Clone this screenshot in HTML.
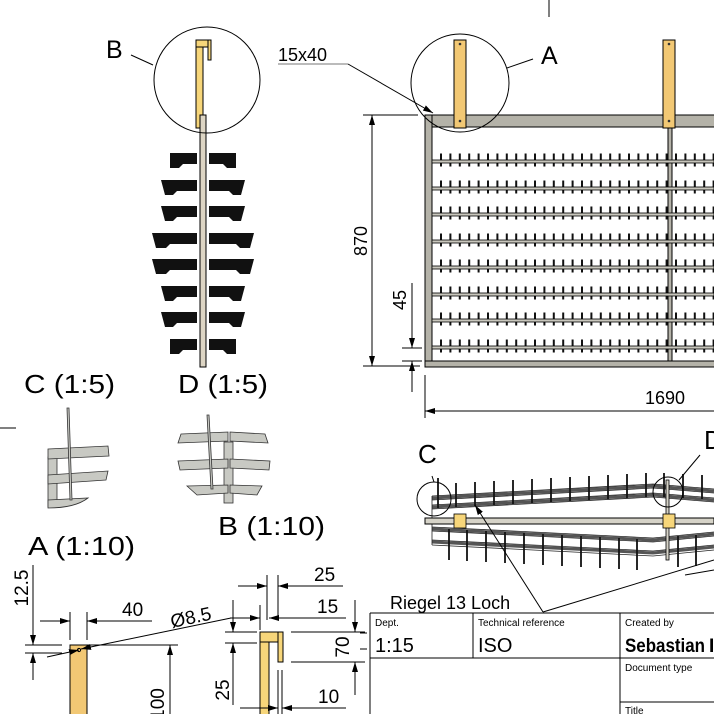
<!DOCTYPE html>
<html><head><meta charset="utf-8"><style>
html,body{margin:0;padding:0;background:#fff;}
svg{display:block;font-family:"Liberation Sans",sans-serif;}
</style></head><body>
<svg width="714" height="714" viewBox="0 0 714 714" xmlns="http://www.w3.org/2000/svg">
<defs>
<marker id="ar" viewBox="0 0 10 6" refX="10" refY="3" markerWidth="10" markerHeight="6" orient="auto-start-reverse" markerUnits="userSpaceOnUse"><path d="M0,0 L10,3 L0,6z" fill="#000"/></marker>
</defs>
<g stroke="#000" stroke-width="1" fill="none">
<line x1="549" y1="0" x2="549" y2="17"/>
<line x1="0" y1="428" x2="16" y2="428"/>
</g>

<!-- MAIN FRONT VIEW -->
<g stroke="#000" stroke-width="1">
<rect x="425" y="115" width="300" height="12" fill="#b4b2a8"/>
<rect x="425" y="115" width="7" height="252" fill="#b4b2a8"/>
<rect x="425" y="361" width="300" height="6" fill="#b4b2a8"/>
<rect x="668" y="127" width="4" height="234" fill="#b4b2a8"/>
</g>
<g stroke="#111" stroke-width="13" stroke-dasharray="2 7.4" fill="none">
<line x1="440" y1="160" x2="714" y2="160"/>
<line x1="440" y1="187" x2="714" y2="187"/>
<line x1="440" y1="213" x2="714" y2="213"/>
<line x1="440" y1="240" x2="714" y2="240"/>
<line x1="440" y1="266" x2="714" y2="266"/>
<line x1="440" y1="293" x2="714" y2="293"/>
<line x1="440" y1="319" x2="714" y2="319"/>
<line x1="440" y1="346" x2="714" y2="346"/>
</g>
<g stroke="#000" stroke-width="0.8" fill="#c8c6bc">
<rect x="432" y="160" width="282" height="3"/>
<rect x="432" y="187" width="282" height="3"/>
<rect x="432" y="213" width="282" height="3"/>
<rect x="432" y="240" width="282" height="3"/>
<rect x="432" y="266" width="282" height="3"/>
<rect x="432" y="293" width="282" height="3"/>
<rect x="432" y="319" width="282" height="3"/>
<rect x="432" y="346" width="282" height="3"/>
</g>
<g stroke="#000" stroke-width="1" fill="#f2c874">
<rect x="454" y="40" width="12" height="88"/>
<rect x="663" y="40" width="12" height="88"/>
</g>
<g fill="#333">
<circle cx="460" cy="44" r="1.3"/><circle cx="460" cy="121" r="1.3"/>
<circle cx="669" cy="44" r="1.3"/><circle cx="669" cy="121" r="1.3"/>
</g>
<g stroke="#000" stroke-width="1" fill="none">
<circle cx="460" cy="83" r="49"/>
<line x1="507" y1="68" x2="533" y2="59"/>
<line x1="278" y1="64" x2="348" y2="64" stroke="#777"/>
<line x1="348" y1="64" x2="433" y2="113" marker-end="url(#ar)"/>
<line x1="363" y1="115" x2="418" y2="115"/>
<line x1="363" y1="366" x2="420" y2="366"/>
<line x1="372" y1="115" x2="372" y2="366" marker-start="url(#ar)" marker-end="url(#ar)"/>
<line x1="402" y1="348" x2="422" y2="348"/>
<line x1="402" y1="361" x2="422" y2="361"/>
<line x1="412" y1="283" x2="412" y2="348" marker-end="url(#ar)"/>
<line x1="412" y1="392" x2="412" y2="361" marker-end="url(#ar)"/>
<line x1="425" y1="375" x2="425" y2="418"/>
<line x1="425" y1="411" x2="714" y2="411" marker-start="url(#ar)"/>
</g>
<g font-size="25" fill="#000">
<text x="541" y="64">A</text>
<text x="106" y="58">B</text>
</g>
<g font-size="18" fill="#000">
<text x="278" y="61">15x40</text>
<text x="645" y="404">1690</text>
<text transform="translate(367,241) rotate(-90)" text-anchor="middle">870</text>
<text transform="translate(406,300) rotate(-90)" text-anchor="middle">45</text>
</g>

<!-- SIDE VIEW -->
<g stroke="#000" stroke-width="1">
<rect x="196" y="40" width="7" height="88" fill="#f7d67a"/>
<rect x="196" y="40" width="15" height="7" fill="#f7d67a"/>
<rect x="208" y="40" width="3" height="20" fill="#f7d67a"/>
<rect x="200" y="115" width="6" height="252" fill="#ddd5c4"/>
</g>
<g stroke="#000" fill="none">
<circle cx="207" cy="80" r="53"/>
<line x1="153" y1="65" x2="131" y2="55"/>
</g>
<g fill="#111">
<path d="M170,153 h27 v11 h-14 l-4,4 h-9 z"/><path d="M236,153 h-27 v11 h14 l4,4 h9 z"/>
<path d="M161,180 h36 v11 h-20 l-4,4 h-8 z"/><path d="M245,180 h-36 v11 h20 l4,4 h8 z"/>
<path d="M161,206 h36 v11 h-20 l-4,4 h-8 z"/><path d="M245,206 h-36 v11 h20 l4,4 h8 z"/>
<path d="M152,233 h45 v11 h-27 l-4,4 h-10 z"/><path d="M254,233 h-45 v11 h27 l4,4 h10 z"/>
<path d="M152,259 h45 v11 h-27 l-4,4 h-10 z"/><path d="M254,259 h-45 v11 h27 l4,4 h10 z"/>
<path d="M161,286 h36 v11 h-20 l-4,4 h-8 z"/><path d="M245,286 h-36 v11 h20 l4,4 h8 z"/>
<path d="M161,312 h36 v11 h-20 l-4,4 h-8 z"/><path d="M245,312 h-36 v11 h20 l4,4 h8 z"/>
<path d="M170,339 h27 v11 h-14 l-4,4 h-9 z"/><path d="M236,339 h-27 v11 h14 l4,4 h9 z"/>
</g>

<!-- DETAILS C, D -->
<g font-size="26" fill="#000">
<text x="24" y="393" textLength="91" lengthAdjust="spacingAndGlyphs">C (1:5)</text>
<text x="178" y="393" textLength="90" lengthAdjust="spacingAndGlyphs">D (1:5)</text>
<text x="218" y="535" textLength="107" lengthAdjust="spacingAndGlyphs">B (1:10)</text>
<text x="28" y="555" textLength="107" lengthAdjust="spacingAndGlyphs">A (1:10)</text>
<text x="418" y="463">C</text>
<text x="704" y="449">D</text>
</g>
<g stroke="#333" stroke-width="0.8" fill="#c8c9c3">
<rect x="48" y="457" width="9" height="50"/>
<path d="M48,449 L108,446 L109,456 L48,459z"/>
<path d="M48,475 L108,471 L106,480 L48,484z"/>
<path d="M48,500 L88,498 Q75,508 48,508z"/>
<path d="M67,408 L69,408 L72,500 L70,500z"/>
<rect x="224" y="442" width="9" height="61"/>
<path d="M181,434 L228,432 L228,441 L178,443z"/>
<path d="M230,432 L265,434 L268,443 L230,441z"/>
<path d="M178,461 L228,459 L228,468 L180,470z"/>
<path d="M230,459 L270,461 L269,470 L230,468z"/>
<path d="M187,486 L228,485 L228,493 L197,495z"/>
<path d="M230,485 L262,486 L257,495 L230,493z"/>
<path d="M207,415 L209,415 L213,489 L211,489z"/>
</g>

<!-- ISO VIEW -->
<g stroke="#555" stroke-width="3" fill="none">
<path d="M432,498 L653,486 L714,491"/>
<path d="M432,507 L653,495 L714,500"/>
<path d="M432,529 L653,540 L714,534"/>
<path d="M432,542 L653,553 L714,547"/>
</g>
<g stroke="#222" stroke-width="0.8" fill="none">
<path d="M432,496 L653,484 L714,489"/>
<path d="M432,500 L653,488 L714,493"/>
<path d="M432,505 L653,493 L714,498"/>
<path d="M432,509 L653,497 L714,502"/>
<path d="M432,527 L653,538 L714,532"/>
<path d="M432,531 L653,542 L714,536"/>
<path d="M432,540 L653,551 L714,545"/>
<path d="M432,545 L653,556 L714,550"/>
<line x1="432" y1="496" x2="432" y2="545"/>
</g>
<rect x="425" y="518" width="289" height="6" fill="#d6d3c8" stroke="#000" stroke-width="1"/>
<rect x="666" y="480" width="3" height="80" fill="#d6d3c8" stroke="#000" stroke-width="0.8"/>
<g stroke="#000" stroke-width="0.8" fill="#f7d67a">
<rect x="454" y="514" width="12" height="14"/>
<rect x="663" y="514" width="12" height="14"/>
</g>
<g stroke="#111" stroke-width="1.8">
<line x1="438" y1="478" x2="438" y2="508"/><line x1="456" y1="483" x2="456" y2="507"/><line x1="475" y1="482" x2="475" y2="506"/><line x1="494" y1="481" x2="494" y2="505"/><line x1="513" y1="480" x2="513" y2="504"/><line x1="532" y1="479" x2="532" y2="503"/><line x1="551" y1="478" x2="551" y2="502"/><line x1="570" y1="477" x2="570" y2="501"/><line x1="589" y1="476" x2="589" y2="500"/><line x1="608" y1="475" x2="608" y2="499"/><line x1="627" y1="474" x2="627" y2="498"/><line x1="646" y1="473" x2="646" y2="497"/><line x1="664" y1="473" x2="664" y2="497"/><line x1="683" y1="474" x2="683" y2="498"/><line x1="702" y1="475" x2="702" y2="499"/>
<line x1="449" y1="529" x2="449" y2="560"/><line x1="467" y1="530" x2="467" y2="561"/><line x1="486" y1="531" x2="486" y2="562"/><line x1="505" y1="532" x2="505" y2="563"/><line x1="524" y1="533" x2="524" y2="564"/><line x1="543" y1="534" x2="543" y2="565"/><line x1="562" y1="535" x2="562" y2="566"/><line x1="581" y1="536" x2="581" y2="567"/><line x1="600" y1="537" x2="600" y2="568"/><line x1="619" y1="538" x2="619" y2="569"/><line x1="637" y1="539" x2="637" y2="570"/><line x1="678" y1="536" x2="678" y2="567"/><line x1="696" y1="535" x2="696" y2="566"/>
</g>
<g stroke="#000" stroke-width="1" fill="none">
<circle cx="434" cy="499" r="17"/>
<circle cx="668" cy="492" r="15"/>
<line x1="432" y1="476" x2="434" y2="482"/>
<line x1="679" y1="480" x2="700" y2="455"/>
<line x1="543" y1="612" x2="475" y2="505" marker-end="url(#ar)"/>
<line x1="543" y1="612" x2="714" y2="560"/>
<line x1="714" y1="570" x2="685" y2="575"/>
</g>

<!-- A (1:10) section -->
<g stroke="#000" stroke-width="1" fill="none">
<rect x="70" y="645" width="17" height="80" fill="#f2c874"/>
<circle cx="79" cy="650" r="1.6"/>
<line x1="25" y1="645" x2="62" y2="645"/>
<line x1="25" y1="653" x2="62" y2="653"/>
<line x1="33" y1="565" x2="33" y2="645" marker-end="url(#ar)"/>
<line x1="33" y1="680" x2="33" y2="653" marker-end="url(#ar)"/>
<line x1="70" y1="612" x2="70" y2="640"/>
<line x1="87" y1="612" x2="87" y2="640"/>
<line x1="40" y1="621" x2="70" y2="621" marker-end="url(#ar)"/>
<line x1="152" y1="621" x2="87" y2="621" marker-end="url(#ar)"/>
<line x1="47" y1="657" x2="79" y2="650" marker-end="url(#ar)"/>
<line x1="231" y1="618" x2="81" y2="649" marker-end="url(#ar)"/>
<line x1="87" y1="645" x2="178" y2="645"/>
<line x1="170" y1="714" x2="170" y2="645" marker-end="url(#ar)"/>
</g>
<g font-size="19" fill="#000">
<text transform="translate(28,588) rotate(-90)" text-anchor="middle">12.5</text>
<text x="122" y="616">40</text>
<text transform="translate(172,628) rotate(-12)">Ø8.5</text>
<text transform="translate(164,704) rotate(-90)" text-anchor="middle">100</text>
</g>

<!-- hook section -->
<g stroke="#000" stroke-width="1">
<rect x="260" y="632" width="9" height="90" fill="#f7d67a"/>
<rect x="260" y="632" width="23" height="10" fill="#f7d67a"/>
<rect x="278" y="632" width="5" height="30" fill="#f7d67a"/>
</g>
<g stroke="#000" stroke-width="1" fill="none">
<line x1="267" y1="575" x2="267" y2="620"/>
<line x1="278" y1="575" x2="278" y2="620"/>
<line x1="238" y1="586" x2="267" y2="586" marker-end="url(#ar)"/>
<line x1="343" y1="586" x2="278" y2="586" marker-end="url(#ar)"/>
<line x1="260" y1="605" x2="260" y2="630"/>
<line x1="230" y1="618" x2="260" y2="618" marker-end="url(#ar)"/>
<line x1="346" y1="618" x2="269" y2="618" marker-end="url(#ar)"/>
<line x1="225" y1="632" x2="257" y2="632"/>
<line x1="225" y1="643" x2="257" y2="643"/>
<line x1="233" y1="600" x2="233" y2="632" marker-end="url(#ar)"/>
<line x1="233" y1="705" x2="233" y2="643" marker-end="url(#ar)"/>
<line x1="291" y1="632" x2="365" y2="632"/>
<line x1="291" y1="662" x2="365" y2="662"/>
<line x1="355" y1="600" x2="355" y2="632" marker-end="url(#ar)"/>
<line x1="355" y1="695" x2="355" y2="662" marker-end="url(#ar)"/>
<line x1="278" y1="670" x2="278" y2="714"/>
<line x1="282" y1="670" x2="282" y2="714"/>
<line x1="240" y1="708" x2="278" y2="708" marker-end="url(#ar)"/>
<line x1="346" y1="708" x2="282" y2="708" marker-end="url(#ar)"/>
</g>
<g font-size="19" fill="#000">
<text x="314" y="581">25</text>
<text x="317" y="613">15</text>
<text transform="translate(349,647) rotate(-90)" text-anchor="middle">70</text>
<text transform="translate(229,690) rotate(-90)" text-anchor="middle">25</text>
<text x="318" y="703">10</text>
</g>

<!-- title block -->
<text x="390" y="609" font-size="18" fill="#000">Riegel 13 Loch</text>
<g stroke="#000" stroke-width="1" fill="none">
<line x1="370" y1="613" x2="714" y2="613"/>
<line x1="370" y1="613" x2="370" y2="714"/>
<line x1="370" y1="658" x2="620" y2="658"/>
<line x1="473" y1="613" x2="473" y2="658"/>
<line x1="620" y1="613" x2="620" y2="714"/>
<line x1="620" y1="658" x2="714" y2="658"/>
<line x1="620" y1="702" x2="714" y2="702"/>
<line x1="360" y1="633" x2="367" y2="633"/>
<line x1="360" y1="649" x2="367" y2="649"/>
</g>
<g fill="#000">
<text x="375" y="626" font-size="10">Dept.</text>
<text x="375" y="652" font-size="20">1:15</text>
<text x="478" y="626" font-size="10">Technical reference</text>
<text x="478" y="652" font-size="20">ISO</text>
<text x="625" y="626" font-size="10">Created by</text>
<text x="625" y="652" font-size="19" font-weight="bold" textLength="80" lengthAdjust="spacingAndGlyphs">Sebastian</text>
<text x="709" y="652" font-size="19" font-weight="bold">I</text>
<text x="625" y="671" font-size="10">Document type</text>
<text x="625" y="714" font-size="10">Title</text>
</g>
</svg>
</body></html>
